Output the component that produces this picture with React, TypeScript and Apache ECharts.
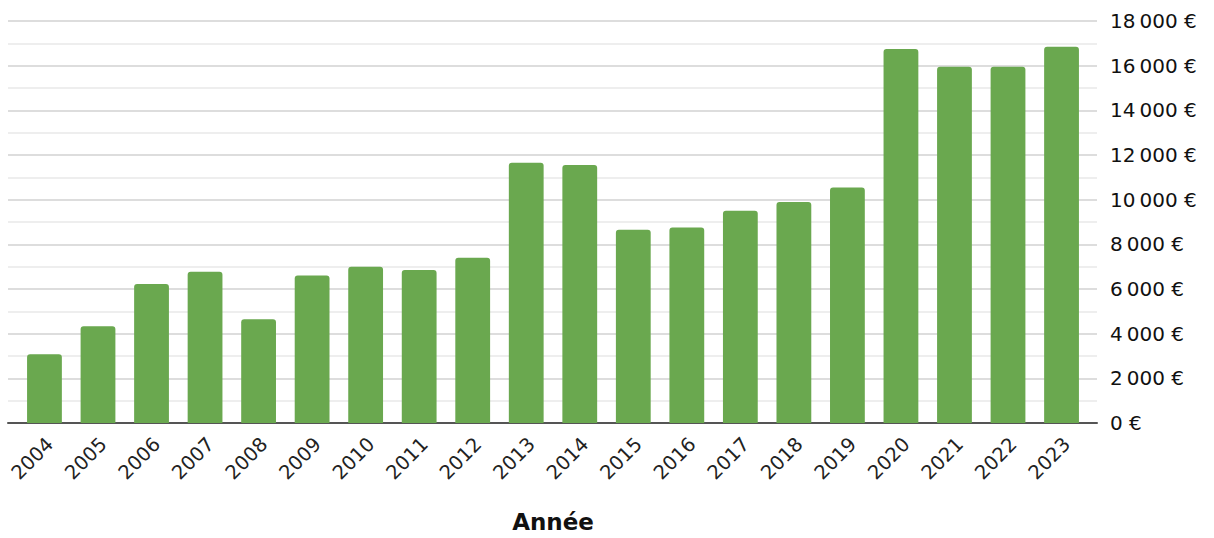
import React, { useEffect, useRef } from "react";
import * as echarts from "echarts";

const years = ["2004","2005","2006","2007","2008","2009","2010","2011","2012","2013","2014","2015","2016","2017","2018","2019","2020","2021","2022","2023"];
const values = [3075, 4330, 6225, 6775, 4650, 6600, 7000, 6850, 7400, 11650, 11550, 8650, 8750, 9500, 9900, 10550, 16750, 15950, 15950, 16850];
const xAxisTitle = "Année";
const yMin = 0;
const yMax = 18000;
const yStep = 2000;

function fmt(v: number): string {
  const s = String(Math.round(v));
  const withSep = s.replace(/\B(?=(\d{3})+(?!\d))/g, "\u2009");
  return withSep + " €";
}

export default function App() {
  const ref = useRef<HTMLDivElement>(null);
  useEffect(() => {
    if (!ref.current) return;
    const chart = echarts.init(ref.current, null, { renderer: "svg" });
    const bandL = 17.7;
    const bandR = 125.7;
    const labelShift = 5.5;
    chart.setOption({
      animation: false,
      backgroundColor: "#ffffff",
      textStyle: { fontFamily: "DejaVu Sans" },
      grid: [
        { left: 8, right: 117, top: 21, bottom: 115, containLabel: false, outerBoundsMode: "none" },
        { left: bandL, right: bandR, top: 21, bottom: 115, containLabel: false, outerBoundsMode: "none" },
        { left: bandL + labelShift, right: bandR - labelShift, top: 21, bottom: 115, containLabel: false, outerBoundsMode: "none" },
      ],
      xAxis: [
        {
          type: "category",
          gridIndex: 0,
          data: years,
          axisLine: { lineStyle: { color: "#555", width: 2 } },
          axisTick: { show: false },
          axisLabel: { show: false },
          splitLine: { show: false },
        },
        {
          type: "category",
          gridIndex: 1,
          data: years,
          name: xAxisTitle,
          nameLocation: "middle",
          nameGap: 87,
          nameMoveOverlap: false,
          nameTextStyle: { fontSize: 23, fontWeight: "bold", color: "#111", fontFamily: "DejaVu Sans" },
          axisLine: { show: false },
          axisTick: { show: false },
          axisLabel: { show: false },
          splitLine: { show: false },
        },
        {
          type: "category",
          gridIndex: 2,
          data: years,
          axisLine: { show: false },
          axisTick: { show: false },
          axisLabel: { rotate: 45, fontSize: 19.5, color: "#222", margin: 18, interval: 0 },
          splitLine: { show: false },
        },
      ],
      yAxis: [
        {
          type: "value",
          gridIndex: 0,
          position: "right",
          min: yMin,
          max: yMax,
          interval: yStep,
          axisLine: { show: false },
          axisTick: { show: false },
          axisLabel: { fontSize: 20, color: "#111", margin: 13, formatter: (v: number) => fmt(v) },
          splitLine: { show: true, lineStyle: { color: "#d2d2d2", width: 1.5 } },
          minorTick: { show: false, splitNumber: 2 },
          minorSplitLine: { show: true, lineStyle: { color: "#e8e8e8", width: 1.5 } },
        },
        {
          type: "value",
          gridIndex: 1,
          min: yMin,
          max: yMax,
          interval: yStep,
          show: false,
          splitLine: { show: false },
        },
        {
          type: "value",
          gridIndex: 2,
          min: yMin,
          max: yMax,
          interval: yStep,
          show: false,
          splitLine: { show: false },
        },
      ],
      series: [
        {
          type: "bar",
          xAxisIndex: 1,
          yAxisIndex: 1,
          data: values,
          barWidth: "65%",
          itemStyle: { color: "#6aa84f", borderRadius: [3, 3, 0, 0] },
          z: 3,
        },
      ],
    });
    return () => chart.dispose();
  }, []);
  return <div ref={ref} style={{ position: "fixed", left: 0, top: 0, width: 1214, height: 538 }} />;
}
